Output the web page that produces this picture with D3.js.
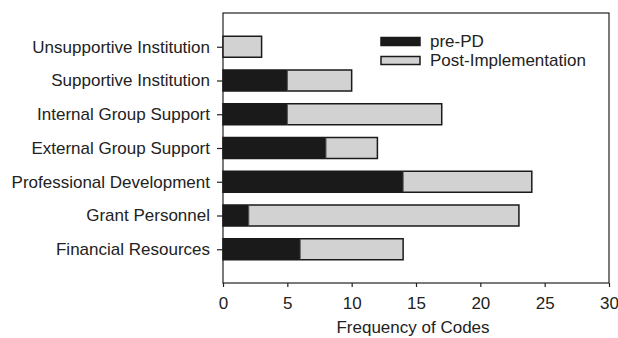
<!DOCTYPE html>
<html>
<head>
<meta charset="utf-8">
<script src="https://cdn.jsdelivr.net/npm/d3@7"></script>
<style>
  html, body { margin: 0; padding: 0; background: #fff; }
  text { font-family: "Liberation Sans", Arial, sans-serif; fill: #222; }
</style>
</head>
<body>
<div id="chart"></div>
<script>
(function () {
  'use strict';

  var categories = ['Unsupportive Institution', 'Supportive Institution', 'Internal Group Support',
    'External Group Support', 'Professional Development', 'Grant Personnel', 'Financial Resources'];
  var prePD = [0, 5, 5, 8, 14, 2, 6];
  var postImpl = [3, 5, 12, 4, 10, 21, 8];
  var seriesNames = ['pre-PD', 'Post-Implementation'];
  var xTicks = [0, 5, 10, 15, 20, 25, 30];

  var width = 618, height = 338;
  var margin = { top: 13, right: 9, bottom: 55, left: 223 };
  var iw = width - margin.left - margin.right;
  var ih = height - margin.top - margin.bottom;
  var fs = '17px';

  var x = d3.scaleLinear().domain([0, 30]).range([0, iw]);
  var y = d3.scalePoint().domain(categories).range([0, ih]).padding(1);
  var barH = 21;

  var svg = d3.select('#chart').append('svg').attr('width', width).attr('height', height);
  var g = svg.append('g').attr('transform', 'translate(' + margin.left + ',' + margin.top + ')');

  // Frame
  g.append('rect').attr('x', 0).attr('y', 0).attr('width', iw).attr('height', ih)
    .attr('fill', 'none').attr('stroke', '#222').attr('stroke-width', 1.2);

  var rows = categories.map(function (c, i) { return { cat: c, pre: prePD[i], post: postImpl[i] }; });

  // Bars
  var row = g.selectAll('g.row').data(rows).enter().append('g').attr('class', 'row');
  row.append('rect')
    .attr('x', function (d) { return x(0); })
    .attr('y', function (d) { return y(d.cat) - barH / 2; })
    .attr('width', function (d) { return x(d.pre) - x(0); })
    .attr('height', barH)
    .attr('fill', '#1a1a1a');
  row.append('rect')
    .attr('x', function (d) { return x(d.pre); })
    .attr('y', function (d) { return y(d.cat) - barH / 2; })
    .attr('width', function (d) { return x(d.pre + d.post) - x(d.pre); })
    .attr('height', barH)
    .attr('fill', '#d2d2d2');
  // Outline around full bar
  row.append('rect')
    .attr('x', x(0))
    .attr('y', function (d) { return y(d.cat) - barH / 2; })
    .attr('width', function (d) { return x(d.pre + d.post) - x(0); })
    .attr('height', barH)
    .attr('fill', 'none').attr('stroke', '#1a1a1a').attr('stroke-width', 1.5);
  // Divider
  row.filter(function (d) { return d.pre > 0; }).append('line')
    .attr('x1', function (d) { return x(d.pre); }).attr('x2', function (d) { return x(d.pre); })
    .attr('y1', function (d) { return y(d.cat) - barH / 2; })
    .attr('y2', function (d) { return y(d.cat) + barH / 2; })
    .attr('stroke', '#444').attr('stroke-width', 1);

  // Axes
  var xa = g.append('g').attr('transform', 'translate(0,' + ih + ')')
    .call(d3.axisBottom(x).tickValues(xTicks).tickSize(4).tickPadding(10));
  xa.selectAll('text').attr('font-size', fs).style('fill', '#222');
  var ya = g.append('g')
    .call(d3.axisLeft(y).tickSize(6).tickPadding(7));
  ya.selectAll('text').attr('font-size', fs).style('fill', '#222');
  g.selectAll('.domain').remove();
  g.selectAll('.tick line').attr('stroke', '#222').attr('stroke-width', 1.2);

  // Axis title
  g.append('text').attr('x', iw / 2 - 3).attr('y', ih + 50)
    .attr('text-anchor', 'middle').attr('font-size', fs)
    .text('Frequency of Codes');

  // Legend
  var legend = g.append('g').attr('transform', 'translate(' + (381 - margin.left) + ',' + (37.5 - margin.top) + ')');
  var fills = ['#1a1a1a', '#d2d2d2'];
  seriesNames.forEach(function (name, i) {
    var ly = i * 19;
    legend.append('rect').attr('x', 0).attr('y', ly).attr('width', 39).attr('height', 8)
      .attr('fill', fills[i]).attr('stroke', '#1a1a1a').attr('stroke-width', 1.5);
    legend.append('text').attr('x', 49).attr('y', ly + 4).attr('dy', '0.35em')
      .attr('font-size', fs).text(name);
  });
})();
</script>
</body>
</html>
